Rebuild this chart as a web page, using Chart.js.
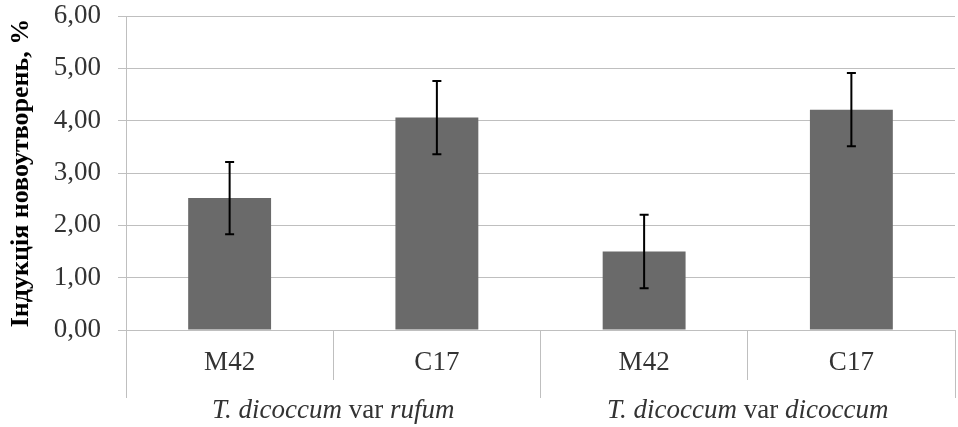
<!DOCTYPE html>
<html>
<head>
<meta charset="utf-8">
<script src="https://cdn.jsdelivr.net/npm/chart.js@4.4.1/dist/chart.umd.min.js"></script>
<style>
  html, body { margin: 0; padding: 0; background: #fff; }
  #wrap { width: 958px; height: 427px; }
</style>
</head>
<body>
<div id="wrap"><canvas id="bar-chart"></canvas></div>
<script>
const categories = ['M42', 'C17', 'M42', 'C17'];
const groups = ['rufum', 'dicoccum'];
const groupLabels = [
  [['T. dicoccum', 'italic'], [' var ', 'normal'], ['rufum', 'italic']],
  [['T. dicoccum', 'italic'], [' var ', 'normal'], ['dicoccum', 'italic']],
];
const values = [2.52, 4.06, 1.50, 4.21];
const errors = [0.69, 0.70, 0.70, 0.70];
const yTicks = [0, 1, 2, 3, 4, 5, 6];

const FONT = "'Liberation Serif', 'Times New Roman', serif";
const GRID = '#bfbfbf';
const TEXT = '#333333';

const errorBars = {
  id: 'errorBars',
  afterDatasetsDraw(chart) {
    const ctx = chart.ctx;
    const y = chart.scales.y;
    const meta = chart.getDatasetMeta(0);
    ctx.save();
    ctx.strokeStyle = '#000';
    ctx.lineWidth = 2;
    meta.data.forEach((bar, i) => {
      const top = y.getPixelForValue(values[i] + errors[i]);
      const bot = y.getPixelForValue(values[i] - errors[i]);
      ctx.beginPath();
      ctx.moveTo(bar.x, top);
      ctx.lineTo(bar.x, bot);
      ctx.moveTo(bar.x - 4.5, top);
      ctx.lineTo(bar.x + 4.5, top);
      ctx.moveTo(bar.x - 4.5, bot);
      ctx.lineTo(bar.x + 4.5, bot);
      ctx.stroke();
    });
    ctx.restore();
  }
};

// group labels mix italic and upright text, so draw them by hand
const groupText = {
  id: 'groupText',
  afterDraw(chart) {
    const ctx = chart.ctx;
    const g = chart.scales.xGroup;
    ctx.save();
    ctx.fillStyle = TEXT;
    ctx.textBaseline = 'middle';
    ctx.textAlign = 'left';
    groupLabels.forEach((parts, i) => {
      let total = 0;
      parts.forEach(p => {
        ctx.font = p[1] + ' 27px ' + FONT;
        total += ctx.measureText(p[0]).width;
      });
      let x = g.getPixelForValue(i) - total / 2;
      const yy = g.top + 31;
      parts.forEach(p => {
        ctx.font = p[1] + ' 27px ' + FONT;
        ctx.fillText(p[0], x, yy);
        x += ctx.measureText(p[0]).width;
      });
    });
    ctx.restore();
  }
};

new Chart(document.getElementById('bar-chart'), {
  type: 'bar',
  data: {
    labels: categories,
    datasets: [{
      data: values,
      backgroundColor: '#6a6a6a',
      barPercentage: 0.4,
      categoryPercentage: 1,
    }]
  },
  options: {
    responsive: true,
    maintainAspectRatio: false,
    animation: false,
    events: [],
    layout: { padding: { top: 16, right: 3, left: 0, bottom: 0 } },
    plugins: { legend: { display: false }, tooltip: { enabled: false } },
    scales: {
      x: {
        offset: true,
        grid: { offset: true, drawOnChartArea: false, tickLength: 50, color: GRID },
        border: { color: GRID },
        ticks: { font: { family: FONT, size: 27 }, color: TEXT, padding: -33, maxRotation: 0 },
        afterFit: (s) => { s.height = 50; s.paddingLeft = 0; s.paddingRight = 0; },
      },
      xGroup: {
        type: 'category',
        position: 'bottom',
        labels: groups,
        offset: true,
        grid: { offset: true, drawOnChartArea: false, tickLength: 18, color: GRID },
        border: { display: false },
        ticks: { display: false },
        afterFit: (s) => { s.height = 47; },
      },
      y: {
        min: 0,
        max: 6,
        afterBuildTicks: (s) => { s.ticks = yTicks.map(v => ({ value: v })); },
        grid: { color: GRID, tickLength: 8 },
        border: { color: GRID },
        ticks: {
          font: { family: FONT, size: 27 },
          color: TEXT,
          padding: 17,
          callback: (v) => v.toFixed(2).replace('.', ','),
        },
        title: {
          display: true,
          text: 'Індукція новоутворень, %',
          font: { family: FONT, size: 26, weight: 'bold' },
          color: '#000',
          padding: { top: 6, bottom: 0 },
        },
        afterFit: (s) => { s.width = 126; s.paddingTop = 0; s.paddingBottom = 0; },
      }
    }
  },
  plugins: [errorBars, groupText]
});
</script>
</body>
</html>
